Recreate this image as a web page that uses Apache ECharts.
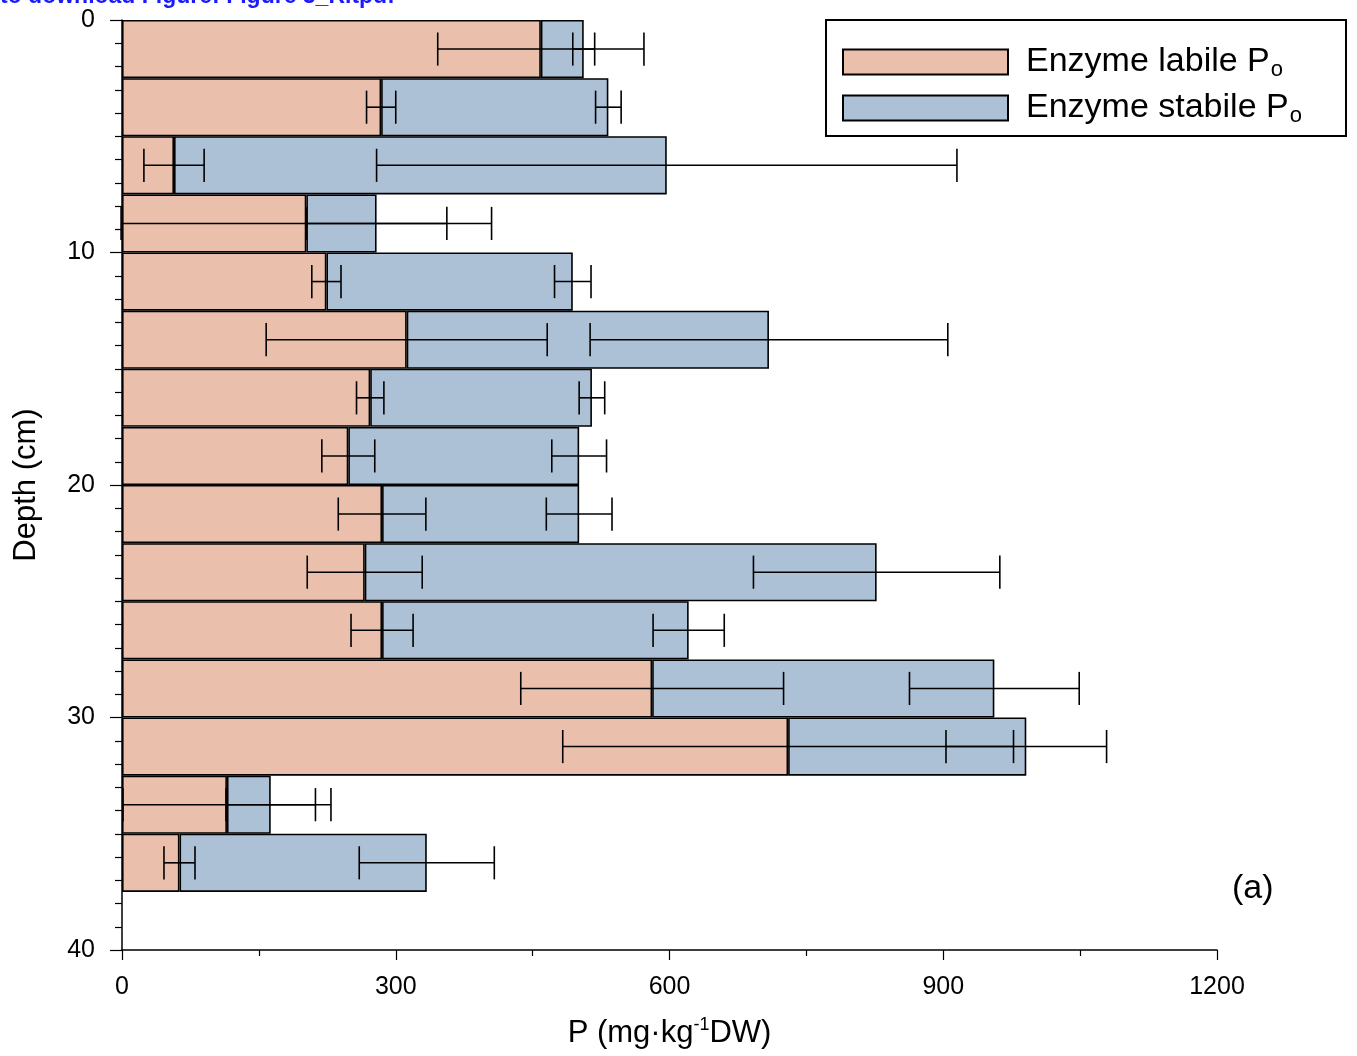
<!DOCTYPE html>
<html>
<head>
<meta charset="utf-8">
<script src="https://cdn.jsdelivr.net/npm/echarts@6/dist/echarts.min.js"></script>
<style>
  html, body { margin: 0; padding: 0; background: #fff; }
  #chart { width: 1357px; height: 1056px; }
</style>
</head>
<body>
<div id="chart"></div>
<script>
// depth layers, 2.5 cm each (0 - 40 cm)
var layers = ['0-2.5', '2.5-5', '5-7.5', '7.5-10', '10-12.5', '12.5-15', '15-17.5', '17.5-20',
  '20-22.5', '22.5-25', '25-27.5', '27.5-30', '30-32.5', '32.5-35', '35-37.5', '37.5-40'];

// mg/kg DW
var labile = [459, 284, 57, 202, 224, 312, 272, 248, 285, 266, 285, 581, 730, 115, 63];
var stabile = [47, 249, 540, 77, 270, 397, 243, 253, 216, 561, 336, 375, 261, 48, 271];
var labileErr = [113, 16, 33, 203, 16, 154, 15, 29, 48, 63, 34, 144, 247, 114, 17];
var stabileErr = [12, 14, 318, 77, 20, 196, 14, 30, 36, 135, 39, 93, 88, 49, 74];

var FONT = 'Liberation Sans, Arial, sans-serif';
var chart = echarts.init(document.getElementById('chart'));

function errorBar(params, api) {
    var center = api.value(0);
    var err = api.value(1);
    var cat = api.value(2);
    var lo = api.coord([center - err, cat]);
    var hi = api.coord([center + err, cat]);
    var half = api.size([0, 1])[1] * 0.285;
    var st = { stroke: '#000', lineWidth: 1.6 };
    return {
        type: 'group',
        children: [
            { type: 'line', shape: { x1: lo[0], y1: lo[1], x2: hi[0], y2: hi[1] }, style: st },
            { type: 'line', shape: { x1: lo[0], y1: lo[1] - half, x2: lo[0], y2: lo[1] + half }, style: st },
            { type: 'line', shape: { x1: hi[0], y1: hi[1] - half, x2: hi[0], y2: hi[1] + half }, style: st }
        ]
    };
}

var labileErrData = labile.map(function (v, i) { return [v, labileErr[i], i]; });
var stabileErrData = stabile.map(function (v, i) { return [labile[i] + v, stabileErr[i], i]; });

var option = {
    animation: false,
    backgroundColor: '#fff',
    textStyle: { fontFamily: FONT },
    grid: { left: 122, top: 20, right: 140, bottom: 106, containLabel: false, outerBoundsMode: 'none' },
    legend: {
        orient: 'vertical',
        left: 842,
        top: 45,
        padding: 0,
        icon: 'rect',
        itemWidth: 165,
        itemHeight: 25,
        itemGap: 10,
        data: ['Enzyme labile P', 'Enzyme stabile P'],
        formatter: function (name) { return '{t|' + name + '}{s|o}'; },
        textStyle: {
            rich: {
                t: { fontSize: 34, color: '#000', fontFamily: FONT, lineHeight: 30, padding: [0, 0, 0, 13] },
                s: { fontSize: 22, color: '#000', fontFamily: FONT, padding: [16, 0, 0, 1] }
            }
        }
    },
    xAxis: {
        type: 'value',
        min: 0,
        max: 1200,
        interval: 300,
        name: '{n|P (mg·kg}{u|-1}{n|DW)}',
        nameLocation: 'middle',
        nameGap: 66,
        nameTextStyle: {
            rich: {
                n: { fontSize: 31, color: '#000', fontFamily: FONT },
                u: { fontSize: 18, color: '#000', fontFamily: FONT, padding: [0, 0, 16, 0] }
            }
        },
        axisLine: { show: true, onZero: false, lineStyle: { color: '#000', width: 1.5 } },
        axisTick: { show: true, length: 10, lineStyle: { color: '#000', width: 1.2 } },
        minorTick: { show: true, splitNumber: 2, length: 6, lineStyle: { color: '#000', width: 1.2 } },
        splitLine: { show: false },
        axisLabel: { fontSize: 25, color: '#000', margin: 25, fontFamily: FONT, formatter: function (v) { return String(v); } }
    },
    yAxis: [
        {
            type: 'category',
            data: layers,
            inverse: true,
            show: false,
            boundaryGap: true
        },
        {
            type: 'value',
            min: 0,
            max: 40,
            interval: 10,
            inverse: true,
            position: 'left',
            name: 'Depth (cm)',
            nameLocation: 'middle',
            nameGap: 80,
            nameRotate: 90,
            nameTextStyle: { fontSize: 31, color: '#000', fontFamily: FONT },
            axisLine: { show: true, onZero: false, lineStyle: { color: '#000', width: 1.5 } },
            axisTick: { show: true, length: 12, lineStyle: { color: '#000', width: 1.2 } },
            minorTick: { show: true, splitNumber: 10, length: 7, lineStyle: { color: '#000', width: 1.2 } },
            splitLine: { show: false },
            axisLabel: { fontSize: 25, color: '#000', margin: 27, fontFamily: FONT }
        }
    ],
    graphic: [
        {
            type: 'text', left: 0, top: -15, z: 100,
            style: { text: 'to download Figure: Figure 3_R.tpdf', font: 'bold 23px ' + FONT, fill: '#1a1aff' }
        },
        {
            type: 'rect', z: 50,
            shape: { x: 826, y: 20, width: 520, height: 116 },
            style: { fill: 'rgba(0,0,0,0)', stroke: '#000', lineWidth: 2 }
        },
        {
            type: 'text', left: 1232, top: 872, z: 100,
            style: { text: '(a)', font: '34px ' + FONT, fill: '#000' }
        }
    ],
    series: [
        {
            name: 'Enzyme labile P',
            type: 'bar',
            stack: 'p',
            yAxisIndex: 0,
            barWidth: '100%',
            barCategoryGap: 0,
            itemStyle: { color: '#EAC0AC', borderColor: '#000', borderWidth: 1.6 },
            data: labile
        },
        {
            name: 'Enzyme stabile P',
            type: 'bar',
            stack: 'p',
            yAxisIndex: 0,
            barWidth: '100%',
            barCategoryGap: 0,
            itemStyle: { color: '#ADC1D6', borderColor: '#000', borderWidth: 1.6 },
            data: stabile
        },
        {
            type: 'custom',
            yAxisIndex: 0,
            renderItem: errorBar,
            encode: { x: [0, 1], y: 2 },
            data: labileErrData,
            z: 10
        },
        {
            type: 'custom',
            yAxisIndex: 0,
            renderItem: errorBar,
            encode: { x: [0, 1], y: 2 },
            data: stabileErrData,
            z: 10
        }
    ]
};

chart.setOption(option);
</script>
</body>
</html>
